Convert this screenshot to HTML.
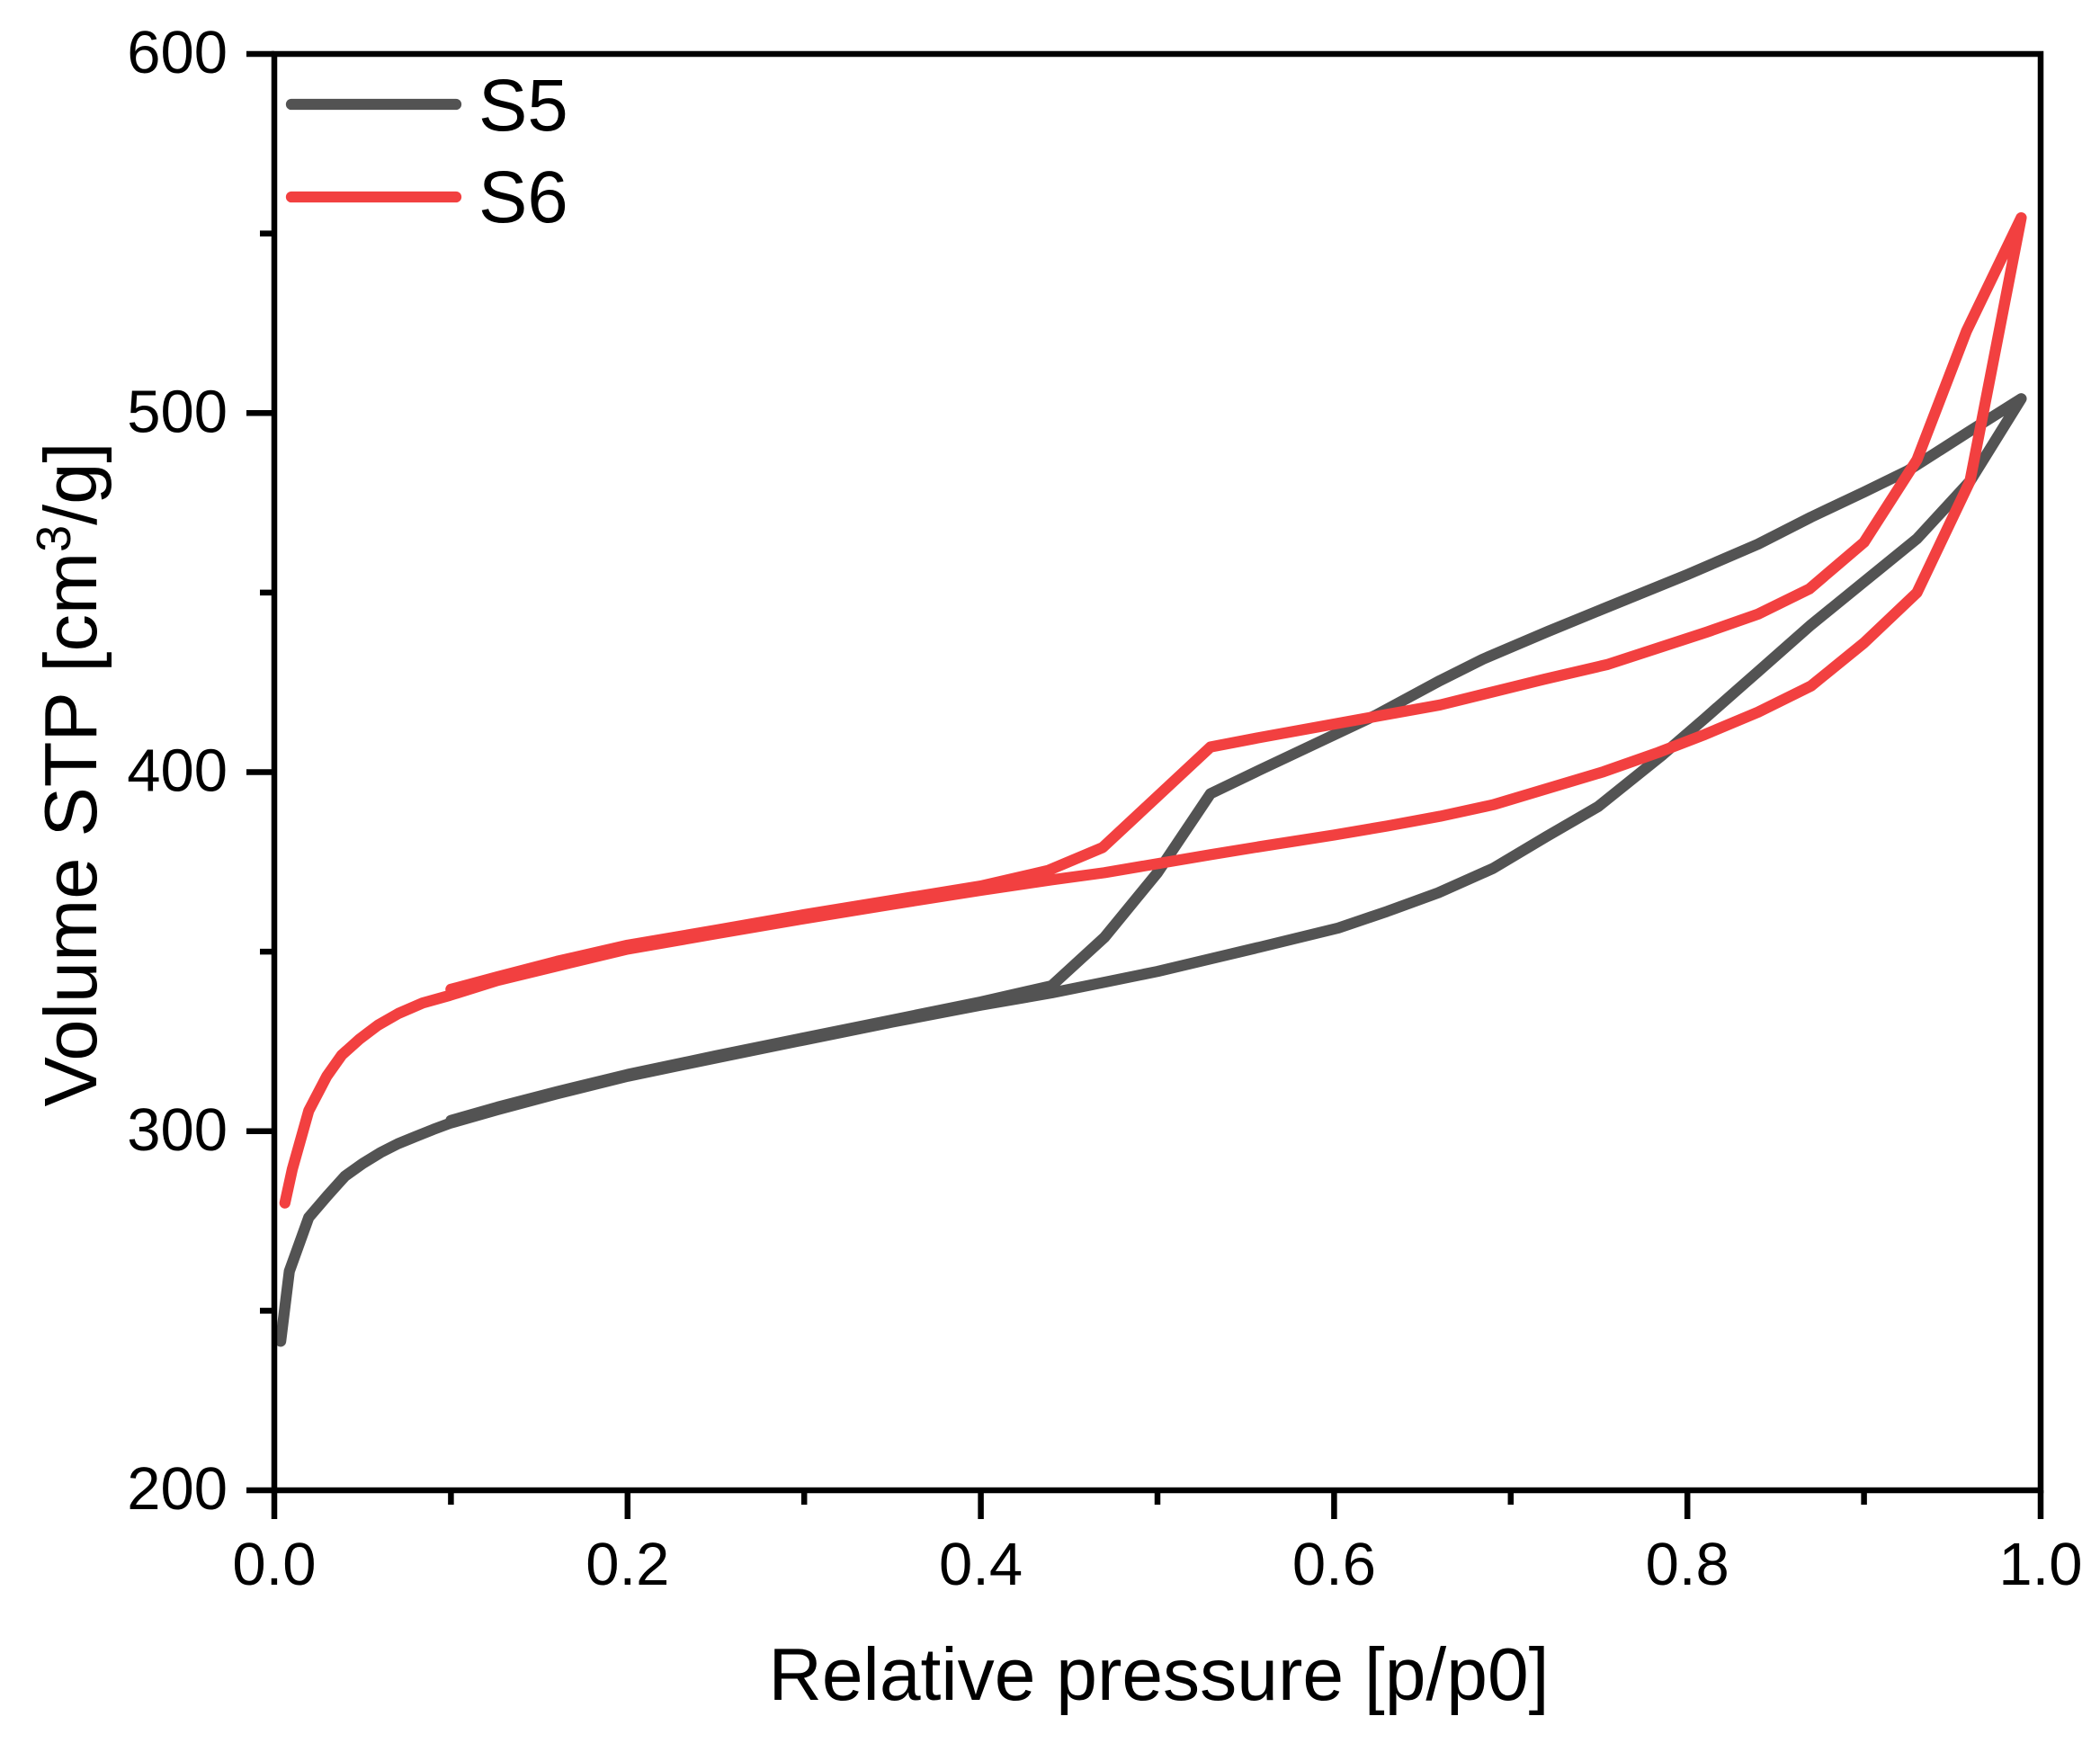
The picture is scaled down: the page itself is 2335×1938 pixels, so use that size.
<!DOCTYPE html>
<html>
<head>
<meta charset="utf-8">
<title>Isotherm chart</title>
<style>
html,body{margin:0;padding:0;background:#fff;width:2335px;height:1938px;overflow:hidden}
svg{display:block}
text{font-family:"Liberation Sans",sans-serif;fill:#000}
</style>
</head>
<body>
<svg id="chart" xmlns="http://www.w3.org/2000/svg" width="2335" height="1938" viewBox="0 0 2335 1938">
  <rect x="0" y="0" width="2335" height="1938" fill="#fff"/>
  <g id="series"></g>
  <g id="axes"></g>
  <g>
    <line x1="324" y1="116" x2="507" y2="116" stroke="#535353" stroke-width="12.3" stroke-linecap="round"/>
    <text x="532" y="145" font-size="81.5">S5</text>
    <line x1="324" y1="219" x2="507" y2="219" stroke="#F24040" stroke-width="12.3" stroke-linecap="round"/>
    <text x="532" y="247" font-size="81.5">S6</text>
  </g>
  <text x="1288.5" y="1890" font-size="82.2" text-anchor="middle">Relative pressure [p/p0]</text>
  <text transform="translate(107,861) rotate(-90)" font-size="83" text-anchor="middle">Volume STP [cm<tspan dy="-29" font-size="54">3</tspan><tspan dy="29">/g]</tspan></text>
</svg>
<script>
const xMajorTicks = [0, 0.2, 0.4, 0.6, 0.8, 1.0];
const xMinorTicks = [0.1, 0.3, 0.5, 0.7, 0.9];
const xTickLabels = ["0.0", "0.2", "0.4", "0.6", "0.8", "1.0"];
const yMajorTicks = [200, 300, 400, 500, 600];
const yMinorTicks = [250, 350, 450, 550];
const yTickLabels = ["200", "300", "400", "500", "600"];

const s5Pressure = [0.0036,0.0085,0.0195,0.03,0.04,0.05,0.06,0.07,0.08,0.09,0.0993,0.1264,0.16,0.2,0.25,0.3,0.35,0.4,0.44,0.47,0.5,0.53,0.5575,0.6024,0.63,0.659,0.69,0.72,0.7495,0.7855,0.81,0.84,0.87,0.9,0.93,0.96,0.989,
  0.96,0.925,0.9,0.87,0.84,0.8,0.75,0.7212,0.684,0.66,0.6238,0.5575,0.53,0.5,0.47,0.44,0.4,0.35,0.3,0.25,0.2,0.16,0.1264,0.1];
const s5Volume = [241.5,261,276,282,287.5,291,294,296.5,298.5,300.5,302.2,306,310.4,315.3,320.4,325.4,330.4,335.1,338.5,341.5,344.5,348,351.2,356.6,361.2,366.4,373.2,382,390.4,404.6,415,428,441,453,465,481,504,
  495,484,478,471,463.5,455,445,439.2,431.4,425.5,415.9,400.5,394,372,354,340.5,336,331,326,321,315.8,311,306.7,303];

const s6Pressure = [0.006,0.0102,0.0195,0.0297,0.0382,0.0484,0.0586,0.0703,0.084,0.0993,0.1264,0.16,0.2,0.25,0.3,0.35,0.4,0.44,0.47,0.53,0.5575,0.6,0.63,0.66,0.69,0.7525,0.7837,0.81,0.84,0.87,0.9,0.93,0.96,0.989,
  0.958,0.93,0.9,0.869,0.84,0.811,0.755,0.7192,0.66,0.6238,0.5575,0.53,0.469,0.438,0.4,0.35,0.3,0.25,0.2,0.16,0.1264,0.1];
const s6Volume = [280,289.4,305.7,315.3,321.2,325.7,329.5,332.8,335.7,337.8,342,346,350.7,355,359.2,363.2,367.1,370,372,377,379.2,382.5,385,387.7,390.9,400.1,405.5,410.5,416.7,424,436,450,481,554.4,
  522.8,487,464,451,444,439,430,425.9,418.7,415.5,409.6,407,379,372.6,368.3,364.3,360.3,356,351.8,347.3,343,339.5];

function xScale(v){ return 305 + (v - 0) / (1 - 0) * (2269 - 305); }
function yScale(v){ return 1657 - (v - 200) / (600 - 200) * (1657 - 60); }

const NS = "http://www.w3.org/2000/svg";
const seriesG = document.getElementById("series");
const axesG = document.getElementById("axes");

function seriesPoints(xs, ys){
  return xs.map(function(x, i){ return xScale(x).toFixed(1) + "," + yScale(ys[i]).toFixed(1); }).join(" ");
}
function makeLine(x1, y1, x2, y2, w){
  const l = document.createElementNS(NS, "line");
  l.setAttribute("x1", x1); l.setAttribute("y1", y1);
  l.setAttribute("x2", x2); l.setAttribute("y2", y2);
  l.setAttribute("stroke", "#000"); l.setAttribute("stroke-width", w);
  axesG.appendChild(l);
  return l;
}

const lineS5 = document.createElementNS(NS, "polyline");


lineS5.setAttribute("points", seriesPoints(s5Pressure, s5Volume));
lineS5.setAttribute("fill", "none");
lineS5.setAttribute("stroke", "#535353");
lineS5.setAttribute("stroke-width", "12.3");
lineS5.setAttribute("stroke-linejoin", "round");
lineS5.setAttribute("stroke-linecap", "round");
seriesG.appendChild(lineS5);

const lineS6 = document.createElementNS(NS, "polyline");


lineS6.setAttribute("points", seriesPoints(s6Pressure, s6Volume));
lineS6.setAttribute("fill", "none");
lineS6.setAttribute("stroke", "#F24040");
lineS6.setAttribute("stroke-width", "12.3");
lineS6.setAttribute("stroke-linejoin", "round");
lineS6.setAttribute("stroke-linecap", "round");
seriesG.appendChild(lineS6);

const frame = document.createElementNS(NS, "rect");


frame.setAttribute("x", xScale(0));
frame.setAttribute("y", yScale(600));
frame.setAttribute("width", xScale(1) - xScale(0));
frame.setAttribute("height", yScale(200) - yScale(600));
frame.setAttribute("fill", "none");
frame.setAttribute("stroke", "#000");
frame.setAttribute("stroke-width", "6.5");
axesG.appendChild(frame);

xMajorTicks.forEach(function(v, i){
  const tick = makeLine(xScale(v), 1657, xScale(v), 1689, 6.5);
  
  
  const t = document.createElementNS(NS, "text");
  
  
  t.setAttribute("x", xScale(v));
  t.setAttribute("y", 1762);
  t.setAttribute("font-size", "67");
  t.setAttribute("text-anchor", "middle");
  t.textContent = xTickLabels[i];
  axesG.appendChild(t);
});
xMinorTicks.forEach(function(v){
  const tick = makeLine(xScale(v), 1657, xScale(v), 1673, 6.5);
  
  
});
yMajorTicks.forEach(function(v, i){
  const tick = makeLine(274, yScale(v), 305, yScale(v), 6.5);
  
  
  const t = document.createElementNS(NS, "text");
  
  
  t.setAttribute("x", 253);
  t.setAttribute("y", yScale(v) + 21);
  t.setAttribute("font-size", "67");
  t.setAttribute("text-anchor", "end");
  t.textContent = yTickLabels[i];
  axesG.appendChild(t);
});
yMinorTicks.forEach(function(v){
  const tick = makeLine(289, yScale(v), 305, yScale(v), 6.5);
  
  
});
</script>
</body>
</html>
